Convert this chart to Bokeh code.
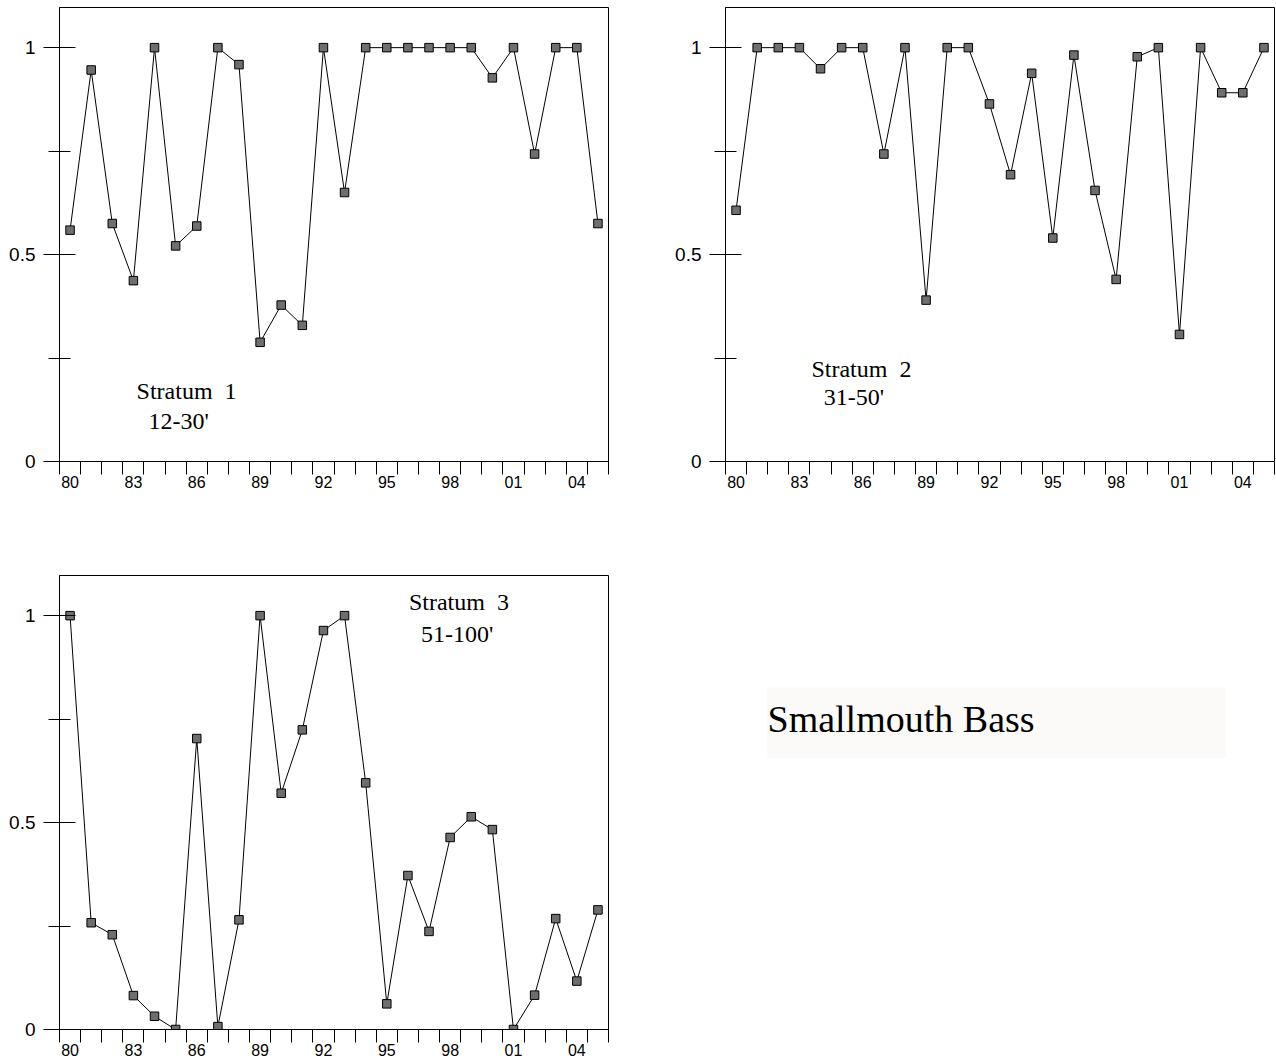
from bokeh.plotting import figure
from bokeh.models import Range1d, FixedTicker, Label, Spacer
from bokeh.layouts import row, column
from bokeh.embed import file_html
from bokeh.resources import INLINE

# ---------------- data ----------------
years = [1980, 1981, 1982, 1983, 1984, 1985, 1986, 1987, 1988, 1989, 1990, 1991, 1992,
         1993, 1994, 1995, 1996, 1997, 1998, 1999, 2000, 2001, 2002, 2003, 2004, 2005]

stratum1 = [0.559, 0.946, 0.575, 0.437, 1.0, 0.521, 0.569, 1.0, 0.959, 0.288, 0.378, 0.329, 1.0,
            0.650, 1.0, 1.0, 1.0, 1.0, 1.0, 1.0, 0.927, 1.0, 0.743, 1.0, 1.0, 0.575]
stratum2 = [0.607, 1.0, 1.0, 1.0, 0.949, 1.0, 1.0, 0.743, 1.0, 0.390, 1.0, 1.0, 0.864,
            0.693, 0.938, 0.540, 0.982, 0.655, 0.440, 0.978, 1.0, 0.307, 1.0, 0.891, 0.891, 1.0]
stratum3 = [1.0, 0.258, 0.229, 0.082, 0.032, 0.0, 0.703, 0.007, 0.265, 1.0, 0.571, 0.724, 0.964,
            1.0, 0.596, 0.062, 0.372, 0.237, 0.464, 0.514, 0.483, 0.0, 0.083, 0.268, 0.117, 0.289]

tick_years = [1980, 1983, 1986, 1989, 1992, 1995, 1998, 2001, 2004]
tick_labels = ["80", "83", "86", "89", "92", "95", "98", "01", "04"]

y_ticks = [0, 0.5, 1]
y_tick_labels = ["0", "0.5", "1"]
y_minor = [0.25, 0.75]

panel_titles = [("Stratum\u00a0 1", "12-30'"), ("Stratum\u00a0 2", "31-50'"), ("Stratum\u00a0 3", "51-100'")]
chart_title = "Smallmouth Bass"

SANS = "Liberation Sans"
SERIF = "Liberation Serif"

band_edges = [y - 0.5 for y in years] + [years[-1] + 0.5]


def make_panel(values, width, height, left, right, top, bottom, labels):
    p = figure(width=width, height=height, output_backend="svg", toolbar_location=None,
               x_range=Range1d(years[0] - 0.5, years[-1] + 0.5), y_range=Range1d(0, 1.097),
               min_border_left=left, min_border_right=right, min_border_top=top,
               min_border_bottom=bottom)
    p.xgrid.visible = False
    p.ygrid.visible = False
    p.outline_line_color = "black"
    p.outline_line_width = 1
    p.background_fill_color = "white"
    p.border_fill_color = "white"

    xa = p.xaxis[0]
    xa.ticker = FixedTicker(ticks=tick_years, minor_ticks=band_edges)
    xa.major_label_overrides = {y: l for y, l in zip(tick_years, tick_labels)}
    xa.major_tick_in = 0
    xa.major_tick_out = 0
    xa.major_tick_line_color = None
    xa.minor_tick_in = 0
    xa.minor_tick_out = 13
    xa.minor_tick_line_color = "black"
    xa.axis_line_color = "black"
    xa.major_label_standoff = 1
    xa.major_label_text_font = SANS
    xa.major_label_text_font_size = "16px"
    xa.major_label_text_color = "black"

    ya = p.yaxis[0]
    ya.ticker = FixedTicker(ticks=y_ticks, minor_ticks=y_minor)
    ya.major_label_overrides = {t: l for t, l in zip(y_ticks, y_tick_labels)}
    ya.major_tick_in = 16
    ya.major_tick_out = 16
    ya.minor_tick_in = 11
    ya.minor_tick_out = 11
    ya.major_tick_line_color = "black"
    ya.minor_tick_line_color = "black"
    ya.axis_line_color = "black"
    ya.major_label_standoff = 8
    ya.major_label_text_font = SANS
    ya.major_label_text_font_size = "19px"
    ya.major_label_text_color = "black"

    p.line(years, values, line_color="black", line_width=1)
    p.scatter(years, values, marker="square", size=8.5, fill_color="#6e6e6e",
              line_color="black", line_width=1)

    for (x, y, t) in labels:
        p.add_layout(Label(x=x, y=y, text=t, text_font=SERIF, text_font_size="24px",
                           text_baseline="alphabetic", text_align="left", text_color="black"))
    return p


p1 = make_panel(stratum1, 666, 568, 59, 58, 7, 107,
                [(1983.15, 0.170, panel_titles[0][0]), (1983.72, 0.097, panel_titles[0][1])])
p2 = make_panel(stratum2, 610, 568, 59, 2, 7, 107,
                [(1983.57, 0.223, panel_titles[1][0]), (1984.15, 0.155, panel_titles[1][1])])
p3 = make_panel(stratum3, 666, 494, 59, 58, 7, 33,
                [(1996.05, 1.032, panel_titles[2][0]), (1996.62, 0.956, panel_titles[2][1])])

p4 = figure(width=459, height=71, output_backend="svg", toolbar_location=None,
            x_range=Range1d(0, 459), y_range=Range1d(0, 71),
            x_axis_type=None, y_axis_type=None,
            min_border_left=0, min_border_right=0, min_border_top=0, min_border_bottom=0)
p4.xgrid.visible = False
p4.ygrid.visible = False
p4.outline_line_color = None
p4.background_fill_color = "#fbfaf8"
p4.border_fill_color = "#fbfaf8"
p4.add_layout(Label(x=0, y=40, text=chart_title, text_font=SERIF, text_font_size="38px",
                    text_baseline="alphabetic", text_align="left", text_color="black"))

box_col = column(Spacer(width=459, height=119), p4)
layout = column(row(p1, p2), row(p3, Spacer(width=101, height=494), box_col))

open("out.html", "w").write(file_html(layout, INLINE))
